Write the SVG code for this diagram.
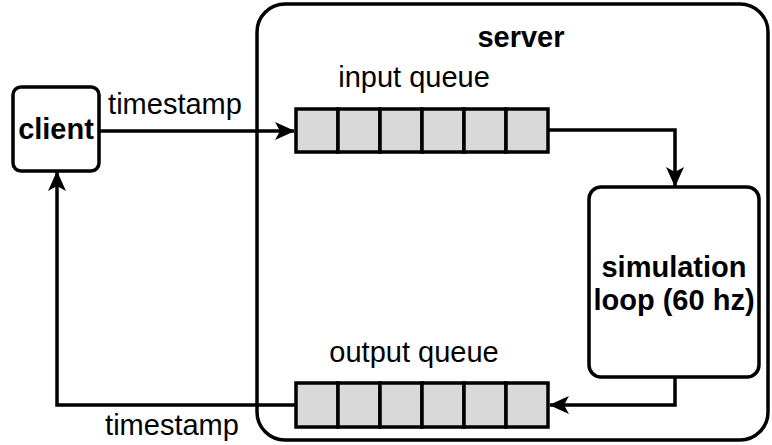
<svg xmlns="http://www.w3.org/2000/svg" width="772" height="445" viewBox="0 0 772 445">
  <defs>
    <style>
      .box { fill: #ffffff; stroke: #000000; stroke-width: 3.5; }
      .cell { fill: #d9d9d9; stroke: #000000; stroke-width: 3.5; }
      .edge { fill: none; stroke: #000000; stroke-width: 3.5; }
      .lbl { font-family: "Liberation Sans", Arial, sans-serif; font-size: 29px; fill: #000000; }
      .bold { font-weight: bold; }
    </style>
    <marker id="arrow" viewBox="0 0 20 20" refX="19" refY="10" markerWidth="20" markerHeight="20" markerUnits="userSpaceOnUse" orient="auto">
      <path d="M0,1 L20,10 L0,19 L5,10 Z" fill="#000000"/>
    </marker>
  </defs>

  <!-- server container -->
  <g id="server">
    <rect class="box" x="257" y="4" width="511" height="436" rx="28" ry="28"/>
    <text class="lbl bold" x="521" y="47" text-anchor="middle">server</text>
  </g>

  <!-- client -->
  <g id="client">
    <rect class="box" x="13" y="87" width="86" height="84" rx="8" ry="8"/>
    <text class="lbl bold" x="56" y="139" text-anchor="middle">client</text>
  </g>

  <!-- input queue -->
  <g id="input-queue">
    <rect class="cell" x="296" y="109" width="42" height="43"/>
    <rect class="cell" x="338" y="109" width="42" height="43"/>
    <rect class="cell" x="380" y="109" width="42" height="43"/>
    <rect class="cell" x="422" y="109" width="42" height="43"/>
    <rect class="cell" x="464" y="109" width="42" height="43"/>
    <rect class="cell" x="506" y="109" width="42" height="43"/>
    <text class="lbl" x="414" y="87" text-anchor="middle">input queue</text>
  </g>

  <!-- simulation loop -->
  <g id="simulation">
    <rect class="box" x="589" y="187" width="170" height="190" rx="12" ry="12"/>
    <text class="lbl bold" x="674" y="277" text-anchor="middle">simulation</text>
    <text class="lbl bold" x="674" y="310" text-anchor="middle">loop (60 hz)</text>
  </g>

  <!-- output queue -->
  <g id="output-queue">
    <rect class="cell" x="296" y="383" width="42" height="44"/>
    <rect class="cell" x="338" y="383" width="42" height="44"/>
    <rect class="cell" x="380" y="383" width="42" height="44"/>
    <rect class="cell" x="422" y="383" width="42" height="44"/>
    <rect class="cell" x="464" y="383" width="42" height="44"/>
    <rect class="cell" x="506" y="383" width="42" height="44"/>
    <text class="lbl" x="414" y="362" text-anchor="middle">output queue</text>
  </g>

  <!-- connectors -->
  <g id="connectors">
    <path class="edge" d="M99,131 L294,131" marker-end="url(#arrow)"/>
    <path class="edge" d="M548,130 L675,130 L675,186" marker-end="url(#arrow)"/>
    <path class="edge" d="M675,377 L675,405 L550,405" marker-end="url(#arrow)"/>
    <path class="edge" d="M296,405 L57,405 L57,172" marker-end="url(#arrow)"/>
    <text class="lbl" x="175" y="114" text-anchor="middle">timestamp</text>
    <text class="lbl" x="172" y="435" text-anchor="middle">timestamp</text>
  </g>
</svg>
